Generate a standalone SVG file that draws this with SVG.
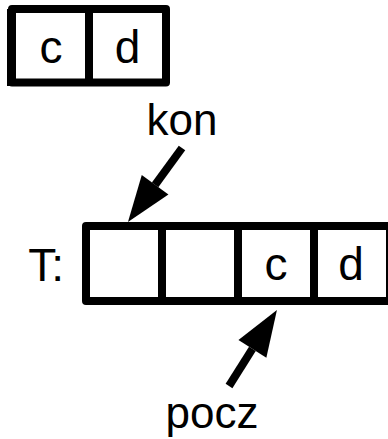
<svg xmlns="http://www.w3.org/2000/svg" width="388" height="439" viewBox="0 0 388 439">
<style>
.box{fill:#fff;stroke:#000;stroke-width:8;stroke-linejoin:round}
.div{stroke:#000;stroke-width:8}
.t{font-family:"Liberation Sans",Arial,sans-serif;font-size:46px;fill:#000}
.lbl{font-family:"Liberation Sans",Arial,sans-serif;font-size:44px;fill:#000;text-anchor:middle}
.arr{stroke:#000;stroke-width:8;fill:none;marker-end:url(#head)}
</style>
<defs>
<marker id="head" markerUnits="userSpaceOnUse" markerWidth="48" markerHeight="34" refX="0" refY="16.5" orient="auto" overflow="visible">
<path d="M0,0 L46,16.5 L0,33 z" fill="#000"/>
</marker>
</defs>
<rect width="388" height="439" fill="#fff"/>
<g id="small">
<rect class="box" x="12" y="9" width="154" height="73.5"/>
<line x1="10" y1="9" x2="10" y2="86" stroke="#000" stroke-width="6"/>
<line class="div" x1="89" y1="9" x2="89" y2="82.5"/>
<text class="t" x="51" y="63" text-anchor="middle">c</text>
<text class="t" x="127.5" y="63" text-anchor="middle">d</text>
</g>
<g id="T">
<text class="t" x="64" y="281" text-anchor="end">T:</text>
<rect class="box" x="86" y="226" width="304" height="75"/>
<line class="div" x1="162" y1="226" x2="162" y2="301"/>
<line class="div" x1="238" y1="226" x2="238" y2="301"/>
<line class="div" x1="314" y1="226" x2="314" y2="301"/>
<text class="t" x="276" y="280" text-anchor="middle">c</text>
<text class="t" x="351" y="280" text-anchor="middle">d</text>
</g>
<g id="kon">
<text class="lbl" x="182" y="135">kon</text>
</g>
<g id="pocz">
<text class="lbl" x="212" y="428">pocz</text>
</g>
<g id="connectors">
<line class="arr" x1="182" y1="148" x2="155.1" y2="184.8"/>
<line class="arr" x1="229" y1="386" x2="252.4" y2="348.9"/>
</g>
</svg>
